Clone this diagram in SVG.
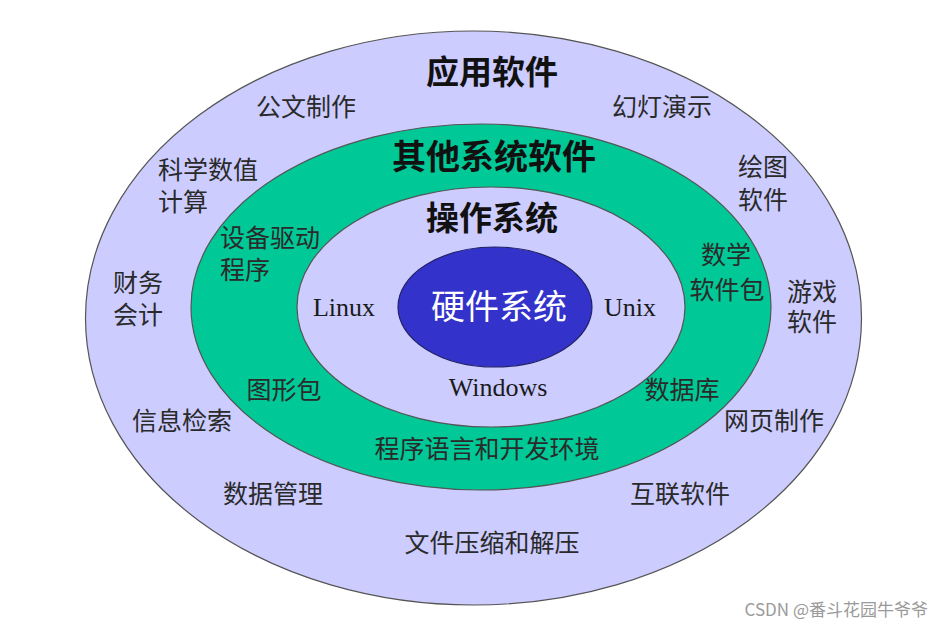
<svg xmlns="http://www.w3.org/2000/svg" width="942" height="631" viewBox="0 0 942 631">
<style>
.t{font-family:"Noto Sans CJK SC","Noto Sans",sans-serif;font-size:25px;fill:#2a2a2a}
.m{text-anchor:middle}
.h{font-family:"Noto Sans CJK SC","Noto Sans",sans-serif;font-weight:700;fill:#111;text-anchor:middle}
.e{font-family:"Liberation Serif","Noto Sans CJK SC",serif;font-size:26px;fill:#1a1a1a;text-anchor:middle}
.ring{stroke:#555;stroke-width:1.2}
</style>
<rect width="942" height="631" fill="#ffffff"/>
<g id="app">
<ellipse class="ring" cx="473.5" cy="318" rx="388" ry="287" fill="#ccccff"/>
<text class="h" x="492" y="84" font-size="33">应用软件</text>
<text class="t m" x="306" y="116">公文制作</text>
<text class="t m" x="662" y="116">幻灯演示</text>
<text class="t" x="158" y="179">科学数值</text>
<text class="t" x="158" y="211">计算</text>
<text class="t" x="738" y="176">绘图</text>
<text class="t" x="738" y="209">软件</text>
<text class="t" x="113" y="292">财务</text>
<text class="t" x="113" y="324">会计</text>
<text class="t" x="787" y="301">游戏</text>
<text class="t" x="787" y="331">软件</text>
<text class="t m" x="182" y="430">信息检索</text>
<text class="t m" x="774" y="430">网页制作</text>
<text class="t m" x="273" y="503">数据管理</text>
<text class="t m" x="680" y="503">互联软件</text>
<text class="t m" x="492" y="552">文件压缩和解压</text>
</g>
<g id="other">
<ellipse class="ring" cx="481" cy="307" rx="290" ry="183" fill="#00c896"/>
<text class="h" x="494" y="169" font-size="34">其他系统软件</text>
<text class="t" x="220" y="247">设备驱动</text>
<text class="t" x="220" y="279">程序</text>
<text class="t m" x="726" y="264">数学</text>
<text class="t m" x="727" y="299">软件包</text>
<text class="t m" x="284" y="399">图形包</text>
<text class="t m" x="682" y="399">数据库</text>
<text class="t m" x="487" y="458">程序语言和开发环境</text>
</g>
<g id="os">
<ellipse class="ring" cx="491" cy="307" rx="194" ry="120" fill="#ccccff"/>
<text class="h" x="492" y="230" font-size="33">操作系统</text>
<text class="e" x="344" y="316">Linux</text>
<text class="e" x="630" y="316">Unix</text>
<text class="e" x="498" y="396">Windows</text>
</g>
<g id="hardware">
<ellipse cx="495" cy="307" rx="97" ry="60" fill="#3333cc" stroke="#222266" stroke-width="1.2"/>
<text x="499" y="319" font-size="34" fill="#ffffff" text-anchor="middle" font-family="Noto Sans CJK SC, Noto Sans, sans-serif">硬件系统</text>
</g>
<text x="928" y="616" font-size="17" fill="#9a9a9a" text-anchor="end" font-family="Noto Sans CJK SC, Noto Sans, sans-serif">CSDN @番斗花园牛爷爷</text>
</svg>
